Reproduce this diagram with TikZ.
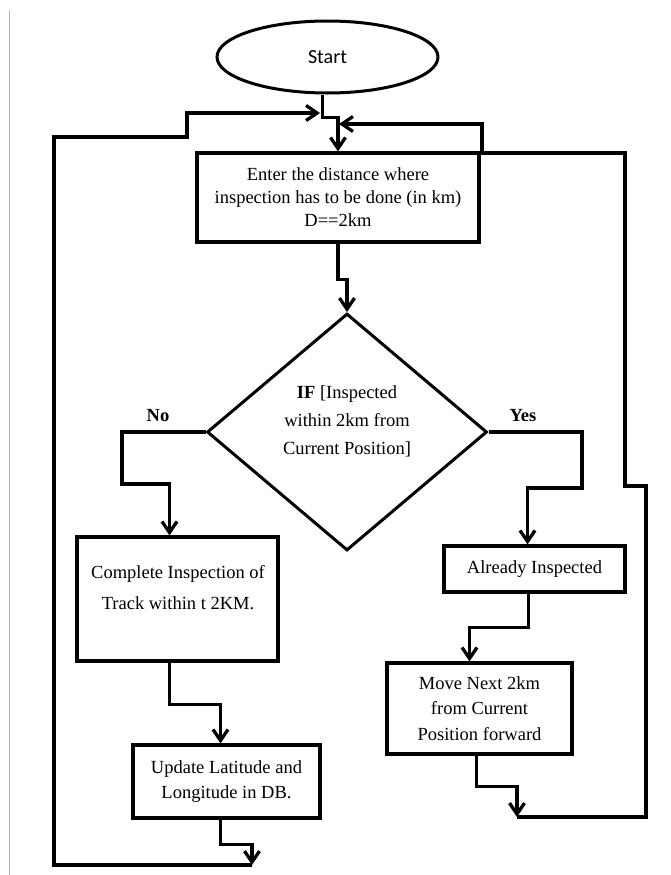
\documentclass[tikz,border=0pt]{standalone}
\usepackage{fontspec}
\setmainfont{Liberation Serif}
\newfontfamily\startfont{Carlito}
\usetikzlibrary{shapes.geometric,arrows.meta}
\begin{document}
\begin{tikzpicture}[x=1pt,y=-1pt,
  conn/.style={line width=3.3pt},
  arr/.style={conn, -{Straight Barb[length=11pt,width=15pt]}},
  box/.style={draw, line width=3.2pt, rectangle, align=center, inner sep=0pt,
    font=\fontsize{18.5}{23}\selectfont},
  txt/.style={align=center, inner sep=0pt, font=\fontsize{18.5}{23}\selectfont},
  lbl/.style={inner sep=0pt, font=\fontsize{18.5}{22}\selectfont\bfseries}]
\fill[white] (0,0) rectangle (670,875);
\useasboundingbox (0,0) rectangle (670,875);
% page border
\draw[black!30, line width=1.2pt] (9.5,10) -- (9.5,875);

% nodes
\node[draw, ellipse, line width=3pt, minimum width=221pt, minimum height=72pt, inner sep=0pt,
  font=\startfont\fontsize{20}{24}\selectfont] (start) at (327.5,57) {Start};
\node[box, minimum width=282pt, minimum height=89pt] (enter) at (338,197.5)
  {Enter the distance where\\inspection has to be done (in km)\\D==2km};
\node[draw, diamond, line width=3pt, minimum width=280pt, minimum height=237pt, inner sep=0pt] (dec) at (347,432) {};
\node[txt, font=\fontsize{18.5}{28}\selectfont] (dtext) at (347,421)
  {\textbf{IF} [Inspected\\within 2km from\\Current Position]};
\node[box, minimum width=201pt, minimum height=124pt] (complete) at (177.5,599) {};
\node[txt, font=\fontsize{18.5}{31}\selectfont] (ctext) at (178,588)
  {Complete Inspection of\\Track within t 2KM.};
\node[box, minimum width=187pt, minimum height=73pt, font=\fontsize{18.5}{25}\selectfont] (update) at (226.5,781.5)
  {Update Latitude and\\Longitude in DB.};
\node[box, minimum width=181pt, minimum height=46pt] (already) at (534.5,569) {Already Inspected};
\node[box, minimum width=185pt, minimum height=91pt, font=\fontsize{18.5}{25.5}\selectfont] (move) at (479.5,708.5)
  {Move Next 2km\\from Current\\Position forward};
\node[lbl] (no) at (158,416) {No};
\node[lbl] (yes) at (523,416) {Yes};

% coordinates
\coordinate (n1) at (122,484);
\coordinate (y1) at (582,488);
\coordinate (bl) at (252,865);
\coordinate (L1) at (54,865);
\coordinate (L2) at (54,137);
\coordinate (L3) at (187,137);
\coordinate (L4) at (187,113);
\coordinate (T1) at (320,113);
\coordinate (br) at (517,817);
\coordinate (R1) at (646,817);
\coordinate (R2) at (646,486);
\coordinate (R3) at (625,486);
\coordinate (R4) at (625,153);
\coordinate (R5) at (482,153);
\coordinate (R6) at (482,124);
\coordinate (T2) at (339,124);

% connectors
\draw[arr] ([xshift=-5pt]start.south) -- ++(0,23) -| (enter.north);
\draw[arr] (enter.south) -- ++(0,36) -| (dec.north);
\draw[arr] (dec.west) -| (n1) -| ([xshift=-8pt]complete.north);
\draw[arr] (dec.east) -| (y1) -| ([xshift=-7pt]already.north);
\draw[arr] ([xshift=-8pt]complete.south) -- ++(0,42) -| ([xshift=-6pt]update.north);
\draw[arr] ([xshift=-6pt]already.south) -- ++(0,34) -| ([xshift=-10pt]move.north);
\draw[arr] ([xshift=-6pt]update.south) -- ++(0,25) -| (bl);
\draw[arr] ([xshift=-3pt]move.south) -- ++(0,31) -| (br);
\draw[arr] (bl) -- (L1) -- (L2) -- (L3) -- (L4) -- (T1);
\draw[arr] (br) -- (R1) -- (R2) -- (R3) -- (R4) -- (R5) -- (R6) -- (T2);
\end{tikzpicture}
\end{document}
